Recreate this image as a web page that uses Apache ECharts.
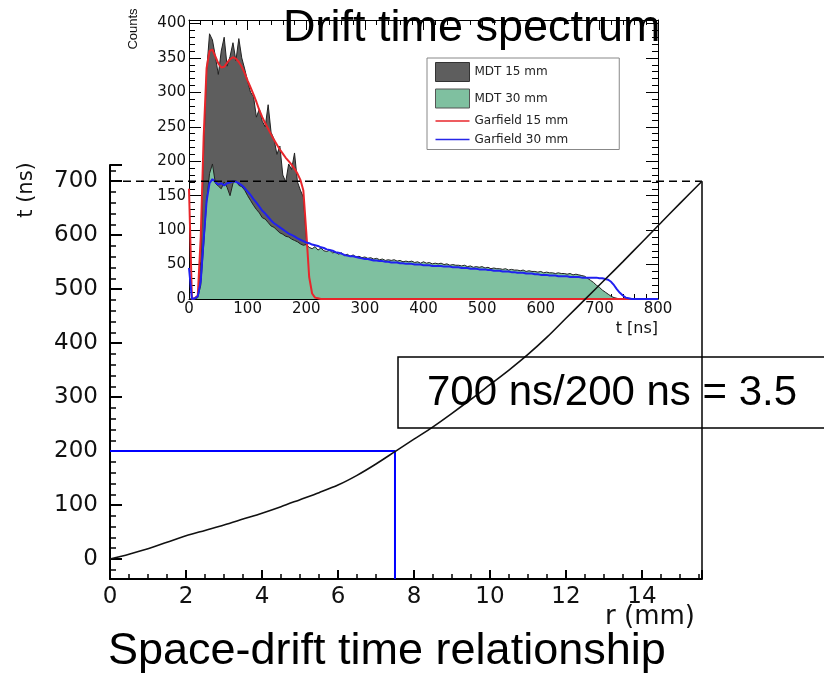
<!DOCTYPE html>
<html><head><meta charset="utf-8">
<script src="https://cdn.jsdelivr.net/npm/echarts@6/dist/echarts.min.js"></script>
<style>html,body{margin:0;padding:0;background:#fff}#c{width:824px;height:674px}</style>
</head><body><div id="c"></div>
<script>
// ---------- Main chart: space-drift time relationship ----------
const rValues = [0,0.5,1,1.5,2,2.5,3,3.5,4,4.5,5,5.5,6,6.5,7,7.5,8,8.5,9,9.5,10,10.5,11,11.5,12,12.5,13,13.5,14,14.5,15,15.58];
const tValues = [0,9,19,31,43,53,63,74,85,97,110,123,137,155,176,199,222,245,270,296,323,350,379,411,446,481,516,551,587,623,659,700];
const rTicks = [0,2,4,6,8,10,12,14];
const tTicks = [0,100,200,300,400,500,600,700];
const guideR = 7.5, guideT = 200;      // 200 ns at r = 7.5 mm
const fullR = 15.58, fullT = 700;      // max drift time at tube wall
const ratioText = '700 ns/200 ns = 3.5';

// ---------- Inset: drift time spectrum (5 ns bins, 0..800 ns) ----------
const binStart = 0, binWidth = 5;
const mdt15 = [
 0,0,0,3,55,215,330,385,376,352,
 326,360,380,338,352,372,346,378,350,334,
 316,300,294,264,276,258,250,282,242,232,
 210,222,180,170,196,188,212,170,158,148,
 90,42,10,2,0,0,0,0,0,0,
 0,0,0,0,0,0,0,0,0,0, 0,0,0,0,0,0,0,0,0,0, 0,0,0,0,0,0,0,0,0,0,
 0,0,0,0,0,0,0,0,0,0, 0,0,0,0,0,0,0,0,0,0, 0,0,0,0,0,0,0,0,0,0,
 0,0,0,0,0,0,0,0,0,0, 0,0,0,0,0,0,0,0,0,0, 0,0,0,0,0,0,0,0,0,0,
 0,0,0,0,0,0,0,0,0,0, 0,0,0,0,0,0,0,0,0,0, 0
];
const mdt30 = [
 0,0,0,2,20,78,140,182,196,168,
 164,160,170,162,150,168,172,165,163,158,
 150,143,136,130,125,118,116,111,106,104,
 100,96,94,91,90,87,85,83,80,78,
 79,75,73,76,71,74,70,69,71,67,
 68,65,67,63,65,62,64,61,62,60,
 61,59,60,58,59,57,58,56,57,56,
 57,55,56,54,55,54,55,53,54,52,
 54,52,53,51,52,51,52,50,51,49,
 50,49,49,48,49,47,48,46,47,46,
 47,45,46,44,45,44,44,43,44,42,
 43,42,42,41,42,40,41,40,40,39,
 40,38,39,38,38,37,38,37,37,36,
 37,35,36,35,34,33,30,27,24,20,
 17,13,10,7,4,2,1,0,0,0,
 0,0,0,0,0,0,0,0,0,0, 0
];
const garfield15 = [
 160,0,1,5,90,235,335,360,362,352,
 342,336,337,343,348,351,349,344,337,328,
 317,307,297,286,274,264,255,247,239,231,
 224,217,211,205,200,195,189,182,173,158,
 98,32,8,2,1,0,0,0,0,0,
 0,0,0,0,0,0,0,0,0,0, 0,0,0,0,0,0,0,0,0,0, 0,0,0,0,0,0,0,0,0,0,
 0,0,0,0,0,0,0,0,0,0, 0,0,0,0,0,0,0,0,0,0, 0,0,0,0,0,0,0,0,0,0,
 0,0,0,0,0,0,0,0,0,0, 0,0,0,0,0,0,0,0,0,0, 0,0,0,0,0,0,0,0,0,0,
 0,0,0,0,0,0,0,0,0,0, 0,0,0,0,0,0,0,0,0,0, 0
];
const garfield30 = [
 45,0,1,4,26,86,142,168,174,170,
 166,168,165,168,169,171,170,168,165,161,
 156,151,145,140,134,128,124,119,114,110,
 107,104,101,98,95,93,91,88,86,84,
 82,81,79,78,77,75,74,72,71,70,
 68,67,66,64,63,62,62,61,60,59,
 58,58,57,56,56,55,55,54,54,53,
 53,53,52,52,51,51,51,50,50,50,
 49,49,49,48,48,48,48,47,47,47,
 46,46,46,45,45,45,44,44,44,43,
 43,43,42,42,41,41,41,40,40,40,
 39,39,38,38,38,37,37,37,36,36,
 35,35,35,34,34,34,33,33,33,33,
 32,32,32,32,31,31,31,31,31,31,
 30,30,29,28,25,20,14,9,5,2,
 1,0,0,0,0,0,0,0,0,0, 0
];
const legendNames = ['MDT 15 mm','MDT 30 mm','Garfield 15 mm','Garfield 30 mm'];

function pairs(vals){ return vals.map((v,i)=>[binStart + i*binWidth, v]); }

const FA = 'DejaVu Sans', FT = 'Liberation Sans';
const mainYMin = -37, mainYMax = 730, mainXMax = 15.58;

const chart = echarts.init(document.getElementById('c'), null, {renderer:'canvas'});
const lineIcon = 'path://M0,0L34,0L34,1.5L0,1.5Z';

const insetAxisCommon = {
  gridIndex: 1, type: 'value',
  axisLine: {show: true, onZero: false, lineStyle: {color: '#000', width: 1}},
  splitLine: {show: false},
};

chart.setOption({
  animation: false,
  backgroundColor: '#fff',
  grid: [
    {left: 110, top: 165, width: 592, height: 414},
    {left: 189, top: 20, width: 469, height: 279}
  ],
  xAxis: [
    {gridIndex: 0, type: 'value', min: 0, max: mainXMax, interval: 2,
     axisLine: {onZero: false, lineStyle: {color: '#000', width: 2}},
     axisTick: {inside: true, length: 9, lineStyle: {color: '#000', width: 2}},
     minorTick: {show: true, splitNumber: 4, length: 5, lineStyle: {color: '#000', width: 1.5}},
     splitLine: {show: false},
     axisLabel: {fontFamily: FA, fontSize: 23, color: '#111', margin: 7, showMaxLabel: false,
       formatter: v => rTicks.includes(v) ? String(v) : ''}},
    Object.assign({}, insetAxisCommon, {min: 0, max: 800, interval: 100,
     axisTick: {inside: true, length: 10, lineStyle: {color: '#000'}},
     minorTick: {show: true, splitNumber: 5, length: 5, lineStyle: {color: '#000'}},
     axisLabel: {fontFamily: FA, fontSize: 15, color: '#111', margin: 3}}),
    Object.assign({}, insetAxisCommon, {min: 0, max: 800, interval: 100, position: 'top',
     axisTick: {inside: true, length: 10, lineStyle: {color: '#000'}},
     minorTick: {show: true, splitNumber: 5, length: 5, lineStyle: {color: '#000'}},
     axisLabel: {show: false}})
  ],
  yAxis: [
    {gridIndex: 0, type: 'value', min: mainYMin, max: mainYMax, splitNumber: 8,
     axisLine: {show: true, onZero: false, lineStyle: {color: '#000', width: 2}},
     axisTick: {show: true, inside: true, length: 12, lineStyle: {color: '#000', width: 2}},
     minorTick: {show: true, splitNumber: 5, length: 6, lineStyle: {color: '#000', width: 1.5}},
     splitLine: {show: false},
     axisLabel: {fontFamily: FA, fontSize: 23, color: '#111', margin: 12,
       formatter: v => tTicks.includes(v) ? String(v) : ''}},
    Object.assign({}, insetAxisCommon, {min: 0, max: 405, interval: 50,
     axisTick: {inside: true, length: 12, lineStyle: {color: '#000'}},
     minorTick: {show: true, splitNumber: 5, length: 6, lineStyle: {color: '#000'}},
     axisLabel: {fontFamily: FA, fontSize: 15, color: '#111', margin: 3, showMaxLabel: false,
       formatter: v => (v % 50 === 0) ? String(v) : ''}}),
    Object.assign({}, insetAxisCommon, {min: 0, max: 405, interval: 50, position: 'right',
     axisTick: {inside: true, length: 12, lineStyle: {color: '#000'}},
     minorTick: {show: true, splitNumber: 5, length: 6, lineStyle: {color: '#000'}},
     axisLabel: {show: false}})
  ],
  legend: {
    left: 427, top: 58, orient: 'vertical',
    itemWidth: 34, itemHeight: 19, itemGap: 6.5,
    padding: [4, 51, 4, 8],
    borderColor: '#888', borderWidth: 1, backgroundColor: '#fff',
    selectedMode: false,
    textStyle: {fontFamily: FA, fontSize: 12, color: '#222'},
    data: [
      {name: legendNames[0], icon: 'rect', itemStyle: {color: '#5e5e5e', borderColor: '#333', borderWidth: 1}},
      {name: legendNames[1], icon: 'rect', itemStyle: {color: '#7fc0a0', borderColor: '#555', borderWidth: 1}},
      {name: legendNames[2], icon: lineIcon, itemStyle: {color: '#e8262b', borderWidth: 0}},
      {name: legendNames[3], icon: lineIcon, itemStyle: {color: '#2626e8', borderWidth: 0}}
    ]
  },
  series: [
    {name: legendNames[0], type: 'line', xAxisIndex: 1, yAxisIndex: 1,
     data: pairs(mdt15), symbol: 'none', color: '#5e5e5e',
     lineStyle: {color: '#222', width: 1}, areaStyle: {color: '#5e5e5e', opacity: 1}, z: 2},
    {name: legendNames[1], type: 'line', xAxisIndex: 1, yAxisIndex: 1,
     data: pairs(mdt30), symbol: 'none', color: '#7fc0a0',
     lineStyle: {color: '#222', width: 1}, areaStyle: {color: '#7fc0a0', opacity: 1}, z: 3},
    {name: legendNames[2], type: 'line', xAxisIndex: 1, yAxisIndex: 1,
     data: pairs(garfield15), symbol: 'none', color: '#e8262b',
     lineStyle: {color: '#e8262b', width: 2}, z: 4},
    {name: legendNames[3], type: 'line', xAxisIndex: 1, yAxisIndex: 1,
     data: pairs(garfield30), symbol: 'none', color: '#2626e8',
     lineStyle: {color: '#2020f0', width: 2}, z: 5},
    // main chart
    {type: 'line', xAxisIndex: 0, yAxisIndex: 0, symbol: 'none', smooth: 0.3, clip: false,
     data: rValues.map((r,i)=>[r, tValues[i]]),
     lineStyle: {color: '#111', width: 1.6}, z: 10},
    {type: 'line', xAxisIndex: 0, yAxisIndex: 0, symbol: 'none', clip: false,
     data: [[0, guideT],[guideR, guideT],[guideR, mainYMin]],
     lineStyle: {color: '#0000ff', width: 2}, z: 9},
    {type: 'line', xAxisIndex: 0, yAxisIndex: 0, symbol: 'none', clip: false,
     data: [[0, fullT],[fullR, fullT]],
     lineStyle: {color: '#000', width: 1.5, type: [8,5]}, z: 9},
    {type: 'line', xAxisIndex: 0, yAxisIndex: 0, symbol: 'none', clip: false,
     data: [[fullR, fullT],[fullR, mainYMin]],
     lineStyle: {color: '#000', width: 1.5}, z: 9}
  ],
  graphic: [
    {type: 'text', x: 283, y: 29, z: 100, style: {text: 'Drift time spectrum', font: '45px "Liberation Sans"', fill: '#000', align: 'left', verticalAlign: 'middle'}},
    {type: 'text', x: 108, y: 652, z: 100, style: {text: 'Space-drift time relationship', font: '45px "Liberation Sans"', fill: '#000', align: 'left', verticalAlign: 'middle'}},
    {type: 'rect', z: 100, shape: {x: 398, y: 357, width: 440, height: 71}, style: {fill: 'none', stroke: '#000', lineWidth: 1.5}},
    {type: 'text', x: 427, y: 393, z: 100, style: {text: ratioText, font: '42px "Liberation Sans"', fill: '#000', align: 'left', verticalAlign: 'middle'}},
    {type: 'text', x: 133, y: 29, rotation: Math.PI/2, z: 100, style: {text: 'Counts', font: '13px "Liberation Sans"', fill: '#111', align: 'center', verticalAlign: 'middle'}},
    {type: 'text', x: 658, y: 329, z: 100, style: {text: 't [ns]', font: '16px "DejaVu Sans"', fill: '#111', align: 'right', verticalAlign: 'middle'}},
    {type: 'text', x: 27, y: 190, rotation: Math.PI/2, z: 100, style: {text: 't (ns)', font: '21px "DejaVu Sans"', fill: '#111', align: 'center', verticalAlign: 'middle'}},
    {type: 'text', x: 695, y: 617, z: 100, style: {text: 'r (mm)', font: '26px "DejaVu Sans"', fill: '#111', align: 'right', verticalAlign: 'middle'}}
  ]
});
</script></body></html>
